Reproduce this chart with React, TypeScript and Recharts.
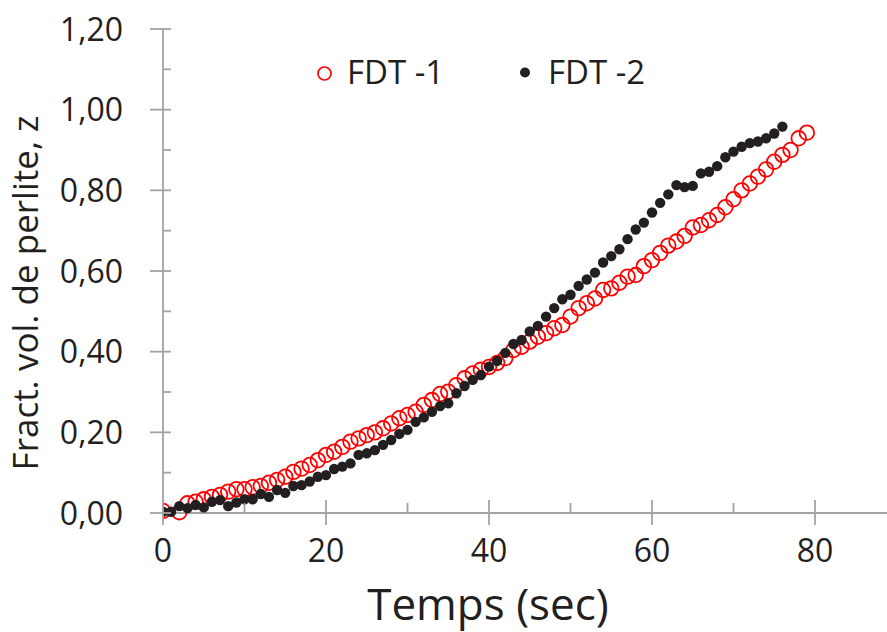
import React from 'react';
import { ScatterChart, Scatter, XAxis, YAxis, Legend } from 'recharts';

const fdt1Time = [0, 2, 3, 4, 5, 6, 7, 8, 9, 10, 11, 12, 13, 14, 15, 16, 17, 18, 19, 20, 21, 22, 23, 24, 25, 26, 27, 28, 29, 30, 31, 32, 33, 34, 35, 36, 37, 38, 39, 40, 41, 42, 43, 44, 45, 46, 47, 48, 49, 50, 51, 52, 53, 54, 55, 56, 57, 58, 59, 60, 61, 62, 63, 64, 65, 66, 67, 68, 69, 70, 71, 72, 73, 74, 75, 76, 77, 78, 79];
const fdt1Fraction = [0.005, 0.002, 0.024, 0.028, 0.034, 0.04, 0.045, 0.053, 0.059, 0.059, 0.064, 0.067, 0.075, 0.082, 0.09, 0.102, 0.11, 0.119, 0.131, 0.144, 0.152, 0.164, 0.177, 0.185, 0.193, 0.2, 0.21, 0.222, 0.235, 0.243, 0.251, 0.268, 0.28, 0.295, 0.301, 0.317, 0.334, 0.346, 0.355, 0.362, 0.372, 0.384, 0.404, 0.412, 0.425, 0.437, 0.446, 0.458, 0.466, 0.487, 0.508, 0.52, 0.532, 0.553, 0.557, 0.571, 0.586, 0.59, 0.612, 0.627, 0.645, 0.663, 0.673, 0.687, 0.708, 0.714, 0.726, 0.739, 0.758, 0.778, 0.8, 0.817, 0.834, 0.852, 0.871, 0.888, 0.9, 0.929, 0.943];

const fdt2Time = [0, 1, 2, 3, 4, 5, 6, 7, 8, 9, 10, 11, 12, 13, 14, 15, 16, 17, 18, 19, 20, 21, 22, 23, 24, 25, 26, 27, 28, 29, 30, 31, 32, 33, 34, 35, 36, 37, 38, 39, 40, 41, 42, 43, 44, 45, 46, 47, 48, 49, 50, 51, 52, 53, 54, 55, 56, 57, 58, 59, 60, 61, 62, 63, 64, 65, 66, 67, 68, 69, 70, 71, 72, 73, 74, 75, 76];
const fdt2Fraction = [0.003, 0.003, 0.017, 0.012, 0.02, 0.014, 0.028, 0.032, 0.017, 0.026, 0.034, 0.034, 0.047, 0.04, 0.057, 0.05, 0.067, 0.069, 0.078, 0.09, 0.094, 0.109, 0.115, 0.123, 0.144, 0.148, 0.156, 0.169, 0.181, 0.196, 0.206, 0.226, 0.237, 0.251, 0.265, 0.272, 0.297, 0.315, 0.33, 0.342, 0.363, 0.377, 0.397, 0.419, 0.429, 0.45, 0.464, 0.487, 0.508, 0.53, 0.541, 0.563, 0.579, 0.596, 0.621, 0.637, 0.654, 0.679, 0.703, 0.72, 0.745, 0.769, 0.79, 0.813, 0.808, 0.811, 0.842, 0.846, 0.86, 0.882, 0.896, 0.908, 0.917, 0.921, 0.929, 0.941, 0.958];

const seriesNames = ['FDT -1', 'FDT -2'];
const xTicks = [0, 10, 20, 30, 40, 50, 60, 70, 80];
const yTicks = [0, 0.1, 0.2, 0.3, 0.4, 0.5, 0.6, 0.7, 0.8, 0.9, 1.0, 1.1, 1.2];
const xTitle = 'Temps (sec)';
const yTitle = 'Fract. vol. de perlite, z';

const fdt1Data = fdt1Time.map((t, i) => ({ t, z: fdt1Fraction[i] }));
const fdt2Data = fdt2Time.map((t, i) => ({ t, z: fdt2Fraction[i] }));

const FONT = '"Open Sans", "Noto Sans", sans-serif';
const TEXT = '#231f20';
const AXIS = '#a3a3a3';
const RED = '#ff0000';
const BLACK = '#231f20';

const XTick = (props: any) => {
  const { x, y, payload } = props;
  const v = payload.value;
  const major = Math.round(v) % 20 === 0;
  return (
    <g>
      <line x1={x} x2={x} y1={y - (major ? 13 : 10)} y2={y + (major ? 12 : 0)} stroke={AXIS} strokeWidth={1.8} />
      {major && (
        <text x={x} y={y + 49} textAnchor="middle" fontFamily={FONT} fontSize={32} fill={TEXT}>
          {v}
        </text>
      )}
    </g>
  );
};

const YTick = (props: any) => {
  const { x, y, payload } = props;
  const v = payload.value;
  const major = Math.round(v * 10) % 2 === 0;
  return (
    <g>
      <line x1={major ? x - 13 : x} x2={x + 8} y1={y} y2={y} stroke={AXIS} strokeWidth={1.8} />
      {major && (
        <text x={x - 40} y={y + 11.5} textAnchor="end" fontFamily={FONT} fontSize={32} fill={TEXT}>
          {v.toFixed(2).replace('.', ',')}
        </text>
      )}
    </g>
  );
};

const XTitle = (props: any) => {
  const vb = props.viewBox || { x: 163, y: 513 };
  return (
    <text x={vb.x + 325} y={vb.y + 107} textAnchor="middle" fontFamily={FONT} fontSize={44} fill={TEXT}>
      {xTitle}
    </text>
  );
};

const YTitle = (props: any) => {
  const vb = props.viewBox || { x: 0, y: 29 };
  const cx = vb.x + 38;
  const cy = vb.y + 264;
  return (
    <text x={cx} y={cy} transform={`rotate(-90, ${cx}, ${cy})`} textAnchor="middle" fontFamily={FONT} fontSize={35} fill={TEXT}>
      {yTitle}
    </text>
  );
};

const OpenCircle = (props: any) => (
  <circle cx={props.cx} cy={props.cy} r={7.3} fill="none" stroke={RED} strokeWidth={1.8} />
);
const Dot = (props: any) => <circle cx={props.cx} cy={props.cy} r={5.2} fill={BLACK} />;

const LegendContent = () => (
  <svg width={887} height={110}>
    <circle cx={324.5} cy={73.5} r={6.5} fill="none" stroke={RED} strokeWidth={1.7} />
    <text x={347} y={84} fontFamily={FONT} fontSize={33} fill={TEXT}>{seriesNames[0]}</text>
    <circle cx={525} cy={72.5} r={5} fill={BLACK} />
    <text x={548} y={84} fontFamily={FONT} fontSize={33} fill={TEXT}>{seriesNames[1]}</text>
  </svg>
);

export default function App() {
  return (
    <div style={{ position: 'absolute', left: 0, top: 0, width: 887, height: 632, overflow: 'hidden', background: '#fff' }}>
      <ScatterChart width={900} height={632} margin={{ top: 29, right: 3.5, bottom: 0, left: 0 }}>
        <XAxis
          type="number"
          dataKey="t"
          domain={[0, 90]}
          ticks={xTicks}
          interval={0}
          tickSize={0}
          tickMargin={0}
          tickLine={false}
          axisLine={{ stroke: AXIS, strokeWidth: 1.8 }}
          tick={<XTick />}
          height={119}
          label={<XTitle />}
          allowDataOverflow
        />
        <YAxis
          type="number"
          dataKey="z"
          domain={[0, 1.2]}
          ticks={yTicks}
          interval={0}
          tickSize={0}
          tickMargin={0}
          tickLine={false}
          axisLine={{ stroke: AXIS, strokeWidth: 1.8 }}
          tick={<YTick />}
          width={163}
          label={<YTitle />}
        />
        <Legend
          layout="horizontal"
          verticalAlign="middle"
          align="center"
          content={<LegendContent />}
          wrapperStyle={{ top: 0, left: 0, width: 887, height: 110 }}
        />
        <Scatter name={seriesNames[0]} data={fdt1Data} shape={<OpenCircle />} isAnimationActive={false} />
        <Scatter name={seriesNames[1]} data={fdt2Data} shape={<Dot />} isAnimationActive={false} />
      </ScatterChart>
    </div>
  );
}
